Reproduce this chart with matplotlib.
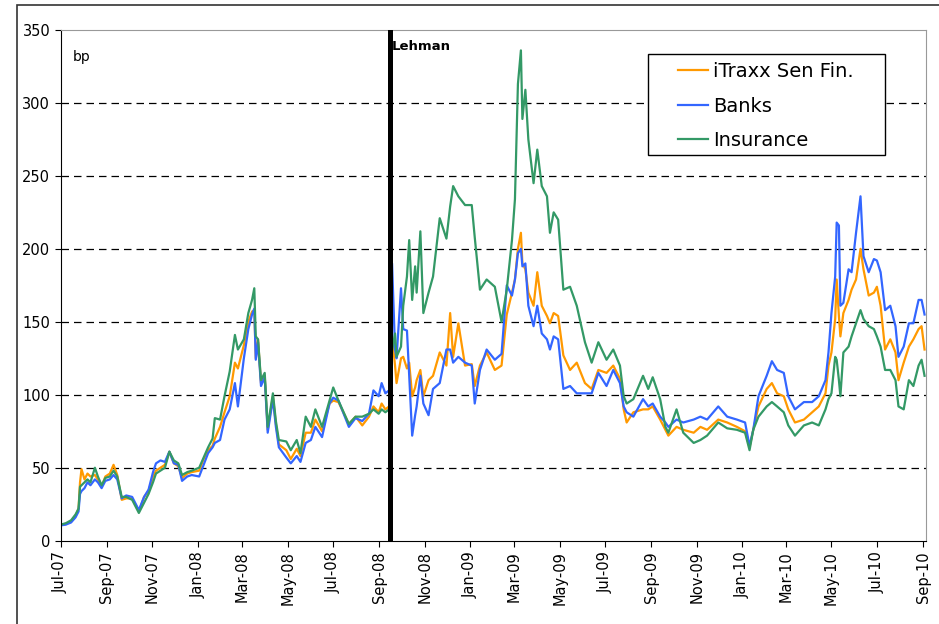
import numpy as np
import pandas as pd
import matplotlib
matplotlib.use('Agg')
import matplotlib.pyplot as plt
import matplotlib.dates as mdates
from matplotlib.patches import Rectangle

# days since 1 Jul 2007
day_offset = [0, 7, 14, 20, 24, 26, 28, 32, 36, 40, 46, 50, 55, 60, 66, 71, 76, 82, 88, 96,
              105, 112, 118, 124, 128, 134, 140, 146, 152, 158, 163, 170, 176, 186, 192, 198,
              204, 207, 214, 220, 227, 234, 238, 246, 252, 257, 260, 262, 265, 269, 274, 278,
              285, 289, 293, 303, 309, 317, 322, 329, 336, 342, 351, 361, 366, 373, 387, 396,
              405, 414, 420, 427, 431, 436, 441,
              445, 449, 451, 457, 460, 465, 468, 472, 476, 478, 483, 487, 494, 500, 509, 518,
              523, 527, 534, 543, 552, 556, 563, 572, 583, 592, 599, 606, 610, 614, 618, 620,
              624, 628, 635, 640, 646, 653, 657, 662, 668, 675, 684, 693, 704, 713, 722, 733,
              742, 751, 756, 760, 769, 782, 789, 795, 805, 812, 816, 827, 836, 850, 859, 868,
              883, 895, 908, 919, 925, 930, 937, 948, 955, 962, 971, 977, 986, 998, 1009, 1018,
              1027, 1031, 1035, 1040, 1042, 1045, 1047, 1051, 1058, 1062, 1068, 1074, 1078,
              1085, 1092, 1096, 1101, 1107, 1114, 1121, 1125, 1132, 1139, 1145, 1152, 1156, 1160]

itraxx = [11, 11.5, 13, 17, 22, 40, 49, 42, 46, 44, 45, 42, 37, 44, 46, 52, 45, 28, 29, 29,
          20, 30, 34, 44, 48, 50, 52, 61, 53, 51, 43, 46, 47, 48, 56, 62,
          65, 70, 78, 88, 99, 122, 118, 134, 150, 157, 158, 125, 138, 108, 113, 76,
          99, 80, 66, 62, 56, 63, 58, 74, 74, 83, 75, 94, 96, 95, 80, 85,
          79, 85, 92, 88, 94, 90, 92,
          140, 120, 108, 125, 126, 118, 122, 99, 105, 110, 117, 99, 110, 113, 129, 120,
          156, 126, 149, 120, 121, 106, 120, 129, 117, 120, 155, 170, 179, 200, 211, 190,
          186, 170, 161, 184, 161, 154, 149, 156, 154, 127, 117, 122, 108, 104, 117, 115,
          120, 111, 90, 81, 88, 90, 90, 92, 83, 76, 72, 78, 76, 74, 78, 76,
          83, 81, 78, 75, 64, 76, 92, 104, 108, 101, 99, 90, 81, 83, 88, 92,
          101, 120, 129, 152, 179, 154, 140, 156, 165, 172, 179, 200, 186,
          168, 170, 174, 161, 131, 138, 129, 110, 122, 133, 138, 145, 147, 131]

banks = [10.5, 11, 12.5, 16, 20, 32, 34, 36, 40, 38, 42, 40, 36, 41, 42, 45, 42, 29, 31, 30,
         21, 30, 35, 47, 53, 55, 54, 61, 53, 52, 41, 44, 45, 44, 52, 60,
         64, 67, 69, 83, 90, 108, 92, 125, 145, 155, 159, 124, 136, 106, 112, 74,
         97, 78, 64, 57, 53, 58, 54, 67, 69, 78, 71, 94, 98, 96, 78, 84,
         82, 87, 103, 99, 108, 101, 103,
         190, 131, 125, 173, 145, 144, 113, 72, 86, 92, 113, 94, 86, 104, 108, 131,
         131, 122, 126, 122, 120, 94, 117, 131, 124, 128, 175, 168, 179, 197, 200, 188,
         190, 161, 147, 161, 142, 138, 131, 140, 138, 104, 106, 101, 101, 101, 115, 106,
         117, 108, 92, 88, 85, 97, 92, 94, 85, 81, 78, 83, 81, 83, 85, 83,
         92, 85, 83, 81, 65, 76, 99, 113, 123, 117, 115, 99, 90, 95, 95, 99,
         110, 129, 156, 181, 218, 216, 161, 163, 186, 184, 211, 236, 195,
         184, 193, 192, 184, 158, 161, 147, 126, 133, 149, 149, 165, 165, 155]

insurance = [11, 12, 14, 18, 22, 37, 38, 40, 42, 40, 50, 44, 38, 43, 44, 48, 44, 30, 30, 28,
             19, 26, 32, 40, 46, 48, 50, 61, 55, 53, 45, 47, 48, 50, 57, 64,
             70, 84, 83, 99, 116, 141, 131, 138, 156, 165, 173, 140, 138, 110, 115, 78,
             101, 82, 69, 68, 62, 69, 60, 85, 78, 90, 78, 96, 105, 96, 80, 85,
             85, 87, 90, 87, 90, 88, 90,
             130, 142, 126, 133, 161, 181, 206, 165, 188, 170, 212, 156, 170, 181, 221, 207,
             229, 243, 236, 230, 230, 208, 172, 179, 174, 150, 172, 206, 234, 313, 336, 289,
             309, 275, 245, 268, 243, 236, 211, 225, 220, 172, 174, 161, 136, 122, 136, 124,
             131, 120, 99, 94, 97, 113, 104, 112, 97, 78, 74, 90, 74, 67, 69, 72,
             81, 77, 76, 74, 62, 76, 85, 92, 95, 92, 88, 79, 72, 79, 81, 79,
             90, 97, 101, 126, 124, 110, 99, 129, 133, 140, 149, 158, 152,
             147, 145, 140, 133, 117, 117, 110, 92, 90, 110, 106, 120, 124, 113]

series_names = ['iTraxx Sen Fin.', 'Banks', 'Insurance']
series_colors = ['#FF9900', '#3366FF', '#339966']

start = pd.Timestamp('2007-07-01')
dates = start + pd.to_timedelta(day_offset, unit='D')
lehman = pd.Timestamp('2008-09-15')

fig = plt.figure(figsize=(9.39, 6.24), dpi=100)
ax = fig.add_axes([0.0646, 0.1335, 0.9212, 0.8185])

for vals, name, col in zip([itraxx, banks, insurance], series_names, series_colors):
    ax.plot(dates, vals, color=col, lw=1.6, label=name)

# gridlines
for yv in range(50, 350, 50):
    ax.axhline(yv, color='black', lw=0.9, dashes=(6, 4), zorder=0)

ax.axvline(lehman, color='black', lw=3.6, zorder=5)
ax.text(lehman + pd.Timedelta(days=2), 339, 'Lehman', fontsize=9.5, fontweight='bold',
        va='center', ha='left')
ax.text(0.014, 0.947, 'bp', transform=ax.transAxes, fontsize=10, va='center')

ax.set_ylim(0, 350)
ax.set_yticks(range(0, 351, 50))
ax.set_xlim(start, pd.Timestamp('2010-09-04 12:00'))
ax.xaxis.set_major_locator(mdates.MonthLocator(bymonth=[1, 3, 5, 7, 9, 11]))
ax.xaxis.set_major_formatter(mdates.DateFormatter('%b-%y'))
plt.setp(ax.get_xticklabels(), rotation=90)
ax.tick_params(labelsize=10.5, length=4, direction='out', color='black')

for s in ['top', 'right']:
    ax.spines[s].set_color('#999999')
for s in ['left', 'bottom']:
    ax.spines[s].set_color('black')

# legend box drawn separately for the wide side padding
ax.add_patch(Rectangle((0.679, 0.755), 0.274, 0.198, transform=ax.transAxes,
                       fill=True, fc='white', ec='black', lw=1.0, zorder=6))
leg = ax.legend(loc='upper left', bbox_to_anchor=(0.7137, 0.937), frameon=False,
                fontsize=14, handlelength=1.55, handletextpad=0.26, labelspacing=0.8,
                borderpad=0, borderaxespad=0)
leg.set_zorder(7)

# outer frame
fig.add_artist(Rectangle((17 / 939, -0.05), 2, (624 - 5) / 624 + 0.05, transform=fig.transFigure,
                         fill=False, ec='#333333', lw=1.2))

fig.savefig('out.png', dpi=100)
